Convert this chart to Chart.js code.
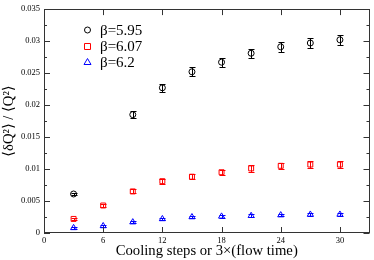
<!DOCTYPE html>
<html>
<head>
<meta charset="utf-8">
<script src="https://cdn.jsdelivr.net/npm/chart.js@4/dist/chart.umd.min.js"></script>
<style>
  html, body { margin: 0; padding: 0; background: #fff; }
  #wrap { width: 374px; height: 260px; }
</style>
</head>
<body>
<div id="wrap"><canvas id="c" width="374" height="260"></canvas></div>
<script>
// データ
const steps = [3, 6, 9, 12, 15, 18, 21, 24, 27, 30];
const beta595 = [0.0061, null, 0.0185, 0.0227, 0.0252, 0.0267, 0.0281, 0.0291, 0.0297, 0.0302];
const beta595Err = [0.0002, null, 0.0006, 0.0006, 0.0007, 0.0007, 0.0007, 0.0008, 0.0008, 0.0008];
const beta607 = [0.0022, 0.0043, 0.0065, 0.0081, 0.0088, 0.0095, 0.0101, 0.0105, 0.0107, 0.0107];
const beta607Err = [0.0002, 0.0002, 0.0003, 0.0004, 0.0004, 0.0004, 0.0005, 0.0005, 0.0005, 0.0006];
const beta62 = [0.0008, 0.0011, 0.0017, 0.0022, 0.0025, 0.0026, 0.0027, 0.0028, 0.0029, 0.0029];
const beta62Err = [0.0002, 0.0002, 0.0002, 0.0002, 0.0002, 0.0002, 0.0002, 0.0002, 0.0002, 0.0002];
const xTicks = [0, 6, 12, 18, 24, 30];
const labels = ["β=5.95", "β=6.07", "β=6.2"];

const SERIF = "'Liberation Serif', 'DejaVu Serif', serif";
const FRAME = '#333';

function toPoints(vals, errs) {
    let pts = [];
    for (let i = 0; i < steps.length; i++) {
        if (vals[i] == null) continue;
        pts.push({x: steps[i], y: vals[i], err: errs[i]});
    }
    return pts;
}

function makeSet(label, vals, errs, color, style, r) {
    return {
        label: label,
        data: toPoints(vals, errs),
        showLine: false,
        borderColor: color,
        backgroundColor: 'rgba(0,0,0,0)',
        pointStyle: style,
        pointRadius: r,
        pointBorderWidth: 1,
        pointHoverRadius: r
    };
}

// エラーバー
const errorBars = {
    id: 'errorBars',
    afterDatasetsDraw(chart) {
        const ctx = chart.ctx, xs = chart.scales.x, ys = chart.scales.y;
        ctx.save();
        chart.data.datasets.forEach(ds => {
            ctx.strokeStyle = ds.borderColor;
            ctx.lineWidth = 1;
            ds.data.forEach(p => {
                const px = Math.round(xs.getPixelForValue(p.x)) + 0.5;
                const top = Math.round(ys.getPixelForValue(p.y + p.err)) + 0.5;
                const bot = Math.round(ys.getPixelForValue(p.y - p.err)) + 0.5;
                ctx.beginPath();
                ctx.moveTo(px, top); ctx.lineTo(px, bot);
                ctx.moveTo(px - 3, top); ctx.lineTo(px + 3, top);
                ctx.moveTo(px - 3, bot); ctx.lineTo(px + 3, bot);
                ctx.stroke();
            });
        });
        ctx.restore();
    }
};

// 内向きの目盛りと枠
const frameTicks = {
    id: 'frameTicks',
    afterDraw(chart) {
        const ctx = chart.ctx, a = chart.chartArea, xs = chart.scales.x, ys = chart.scales.y;
        ctx.save();
        ctx.strokeStyle = FRAME;
        ctx.lineWidth = 1;
        ctx.strokeRect(Math.round(a.left) + 0.5, Math.round(a.top) + 0.5,
            Math.round(a.right - a.left) - 1, Math.round(a.bottom - a.top) - 1);
        ctx.beginPath();
        xTicks.forEach(v => {
            const px = Math.round(xs.getPixelForValue(v)) + 0.5;
            ctx.moveTo(px, a.bottom); ctx.lineTo(px, a.bottom - 6);
            ctx.moveTo(px, a.top); ctx.lineTo(px, a.top + 6);
        });
        for (let v = 0; v <= 0.0351; v += 0.0025) {
            const py = Math.round(ys.getPixelForValue(v)) + 0.5;
            const major = Math.abs(v / 0.005 - Math.round(v / 0.005)) < 0.01;
            const len = major ? 6 : 3;
            ctx.moveTo(a.left, py); ctx.lineTo(a.left + len, py);
            ctx.moveTo(a.right, py); ctx.lineTo(a.right - len, py);
        }
        ctx.stroke();

        // 凡例
        const ds = chart.data.datasets;
        const rows = [30, 46.5, 62];
        ctx.font = '15px ' + SERIF;
        ctx.textBaseline = 'middle';
        for (let i = 0; i < ds.length; i++) {
            const x = 87.5, y = rows[i];
            ctx.strokeStyle = ds[i].borderColor;
            ctx.beginPath();
            if (ds[i].pointStyle == 'circle') {
                ctx.arc(x, y, 3, 0, Math.PI * 2);
            } else if (ds[i].pointStyle == 'rect') {
                ctx.rect(x - 3, y - 3, 6, 6);
            } else {
                ctx.moveTo(x, y - 3.5); ctx.lineTo(x + 3.5, y + 2.5); ctx.lineTo(x - 3.5, y + 2.5); ctx.closePath();
            }
            ctx.stroke();
            ctx.fillStyle = '#000';
            ctx.fillText(ds[i].label, 100, y + 1);
        }
        ctx.restore();
    }
};

new Chart(document.getElementById('c').getContext('2d'), {
    type: 'scatter',
    data: {
        datasets: [
            makeSet(labels[0], beta595, beta595Err, '#000000', 'circle', 3),
            makeSet(labels[1], beta607, beta607Err, '#ff0000', 'rect', 3.5),
            makeSet(labels[2], beta62, beta62Err, '#0000ff', 'triangle', 3.5)
        ]
    },
    options: {
        responsive: false,
        animation: false,
        devicePixelRatio: 1,
        layout: { padding: { top: 5, right: 1, left: 0, bottom: 0 } },
        plugins: { legend: { display: false }, tooltip: { enabled: false } },
        scales: {
            x: {
                type: 'linear', min: 0, max: 33,
                grid: { display: false, drawTicks: false },
                border: { display: false },
                afterBuildTicks: s => { s.ticks = xTicks.map(v => ({value: v})); },
                afterFit: s => { s.height = 27; },
                ticks: { color: '#000', font: { family: SERIF, size: 8.5 }, padding: 3, maxRotation: 0 },
                title: { display: true, text: 'Cooling steps or 3×(flow time)', color: '#000',
                    font: { family: SERIF, size: 14.7 }, padding: { top: 0, bottom: 0 } }
            },
            y: {
                min: 0, max: 0.035,
                grid: { display: false, drawTicks: false },
                border: { display: false },
                ticks: { stepSize: 0.005, color: '#000', font: { family: SERIF, size: 8.5 }, padding: 4,
                    callback: v => String(+v.toFixed(4)) },
                afterFit: s => { s.width = 44; },
                title: { display: true, text: '⟨δQ²⟩ / ⟨Q²⟩', color: '#000',
                    font: { family: SERIF, size: 14.7 }, padding: { top: 0, bottom: 0 } }
            }
        }
    },
    plugins: [errorBars, frameTicks]
});
</script>
</body>
</html>
